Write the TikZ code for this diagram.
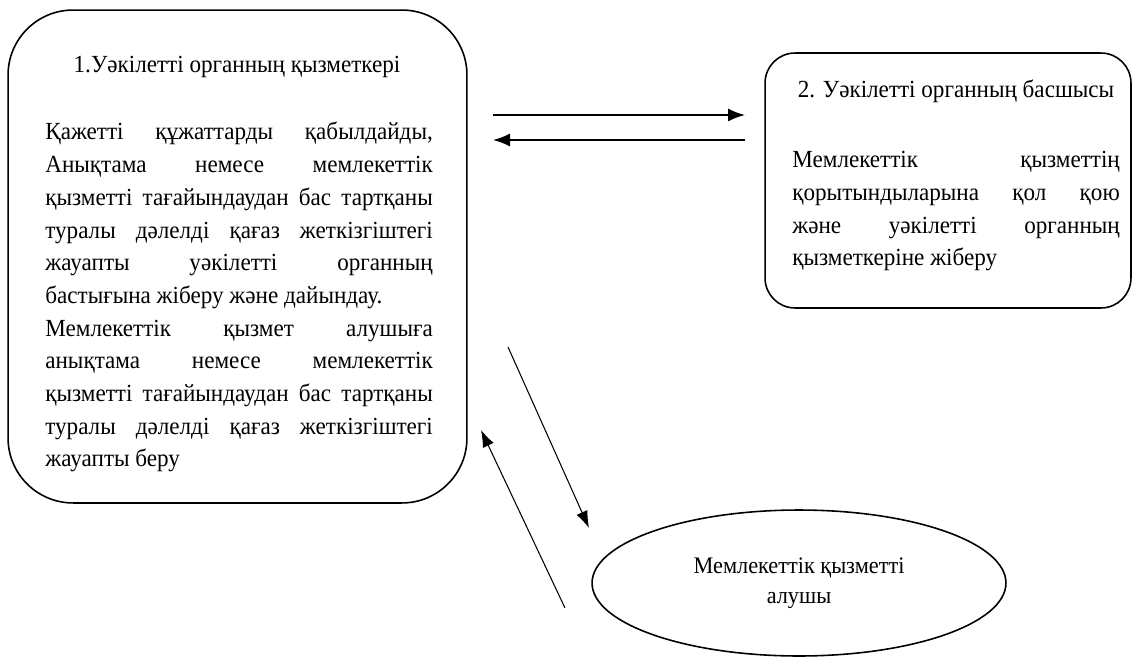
\documentclass[tikz,border=0pt]{standalone}
\usepackage{fontspec}
\setmainfont{LiberationSerif}[Extension=.ttf, UprightFont=*-Regular, BoldFont=*-Bold,
  ItalicFont=*-Italic, BoldItalicFont=*-BoldItalic, FakeStretch=0.94]
\usetikzlibrary{shapes.geometric,positioning,arrows.meta}
\hyphenpenalty=10000
\begin{document}
\begin{tikzpicture}[
    x=0.02cm, y=-0.02cm,
    every node/.style={font=\fontsize{14}{18.6}\selectfont},
    card/.style={draw, line width=0.9pt, inner sep=0pt},
    heading/.style={inner sep=0pt, anchor=base},
    bodytext/.style={inner sep=0pt, text width=#1, align=justify, anchor=north west},
    flow/.style={-{Latex[length=3.4mm,width=2.6mm]}, line width=0.9pt},
    slant/.style={-{Latex[length=3.4mm,width=2.4mm]}, line width=0.6pt}
    ]
    \useasboundingbox (0,0) rectangle (1133,660);
    % boxes
    \node[card, rounded corners=1.3cm, minimum width=9.18cm, minimum height=9.86cm] (worker) at (237.5,256.5) {};
    \node[card, rounded corners=0.6cm, minimum width=7.32cm, minimum height=5.1cm] (head) at (948,180.5) {};
    \node[card, ellipse, minimum width=8.28cm, minimum height=2.92cm, align=center,
          font=\fontsize{13.5}{17}\selectfont] (client) at (799,583) {Мемлекеттік қызметті\\алушы};
    % texts
    \node[heading] (workertitle) at (237,72) {1.Уәкілетті органның қызметкері};
    \node[bodytext=7.75cm] (workertext) at (45,122) {Қажетті құжаттарды қабылдайды,\linebreak
      Анықтама немесе мемлекеттік\linebreak
      қызметті тағайындаудан бас тартқаны\linebreak
      туралы дәлелді қағаз жеткізгіштегі\linebreak
      жауапты уәкілетті органның\linebreak
      бастығына жіберу және дайындау.\newline
      Мемлекеттік қызмет алушыға\linebreak
      анықтама немесе мемлекеттік\linebreak
      қызметті тағайындаудан бас тартқаны\linebreak
      туралы дәлелді қағаз жеткізгіштегі\linebreak
      жауапты беру};
    \node[heading] (headtitle) at (956,97) {2. Уәкілетті органның басшысы};
    \node[bodytext=6.55cm] (headtext) at (792,151) {Мемлекеттік қызметтің\linebreak
      қорытындыларына қол қою\linebreak
      және уәкілетті органның\linebreak
      қызметкеріне жіберу};
    % arrow ends
    \coordinate (toheadA) at (493,115);
    \coordinate (toheadB) at (745,115);
    \coordinate (backA) at (745,140);
    \coordinate (backB) at (493,140);
    \coordinate (outA) at (508,347);
    \coordinate (outB) at (589,528);
    \coordinate (inA) at (565,608);
    \coordinate (inB) at (481,430);
    \draw[flow] (toheadA) -- (toheadB);
    \draw[flow] (backA) -- (backB);
    \draw[slant] (outA) -- (outB);
    \draw[slant] (inA) -- (inB);
\end{tikzpicture}
\end{document}
